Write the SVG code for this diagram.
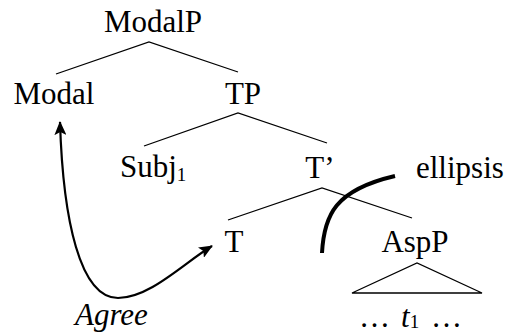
<svg xmlns="http://www.w3.org/2000/svg" width="509" height="334" viewBox="0 0 509 334">
<style>
.e{stroke:#000;stroke-width:1.3;fill:none}
</style>
<defs>
<marker id="ah" markerUnits="userSpaceOnUse" markerWidth="14" markerHeight="12" viewBox="0 0 14 12" refX="13" refY="6" orient="auto-start-reverse">
<path d="M0,0 L14,6 L0,12 L3,6 Z" fill="#000"/>
</marker>
</defs>
<rect width="509" height="334" fill="#fff"/>
<g id="edges">
<path class="e" d="M56,74 L149,42 L238,72"/>
<path class="e" d="M144,146 L238,113 L327,143"/>
<path class="e" d="M228,220 L322,188 L412,218"/>
<path class="e" d="M352,293 L417,263 L482,293 Z"/>
</g>
<g id="ModalP"><text font-family="Liberation Serif" font-size="31" x="153" y="32" text-anchor="middle">ModalP</text></g>
<g id="Modal"><text font-family="Liberation Serif" font-size="31" x="54" y="104" text-anchor="middle">Modal</text></g>
<g id="TP"><text font-family="Liberation Serif" font-size="31" x="243" y="104" text-anchor="middle">TP</text></g>
<g id="Subj"><text font-family="Liberation Serif" font-size="31" x="120" y="177">Subj<tspan font-size="19" dy="4">1</tspan></text></g>
<g id="Tbar"><text font-family="Liberation Serif" font-size="31" x="320" y="178" text-anchor="middle">T’</text></g>
<g id="ellipsis-label"><text font-family="Liberation Serif" font-size="31" x="416" y="178">ellipsis</text></g>
<g id="T"><text font-family="Liberation Serif" font-size="31" x="234" y="252" text-anchor="middle">T</text></g>
<g id="AspP"><text font-family="Liberation Serif" font-size="31" x="415" y="252" text-anchor="middle">AspP</text></g>
<g id="trace"><text font-family="Liberation Serif" font-size="31" x="359" y="327">…<tspan x="401" font-style="italic">t</tspan><tspan font-size="19" dy="1">1</tspan><tspan x="431" dy="-1">…</tspan></text></g>
<g id="agree-label"><text font-family="Liberation Serif" font-size="31" font-style="italic" x="75" y="325">Agree</text></g>
<g id="connectors">
<path d="M322,253 C324,215 335,190 395,176" fill="none" stroke="#000" stroke-width="4"/>
<path d="M60,122 C63,220 80,298 118,298 C150,298 185,262 212,246" fill="none" stroke="#000" stroke-width="2.2" marker-start="url(#ah)" marker-end="url(#ah)"/>
</g>
</svg>
